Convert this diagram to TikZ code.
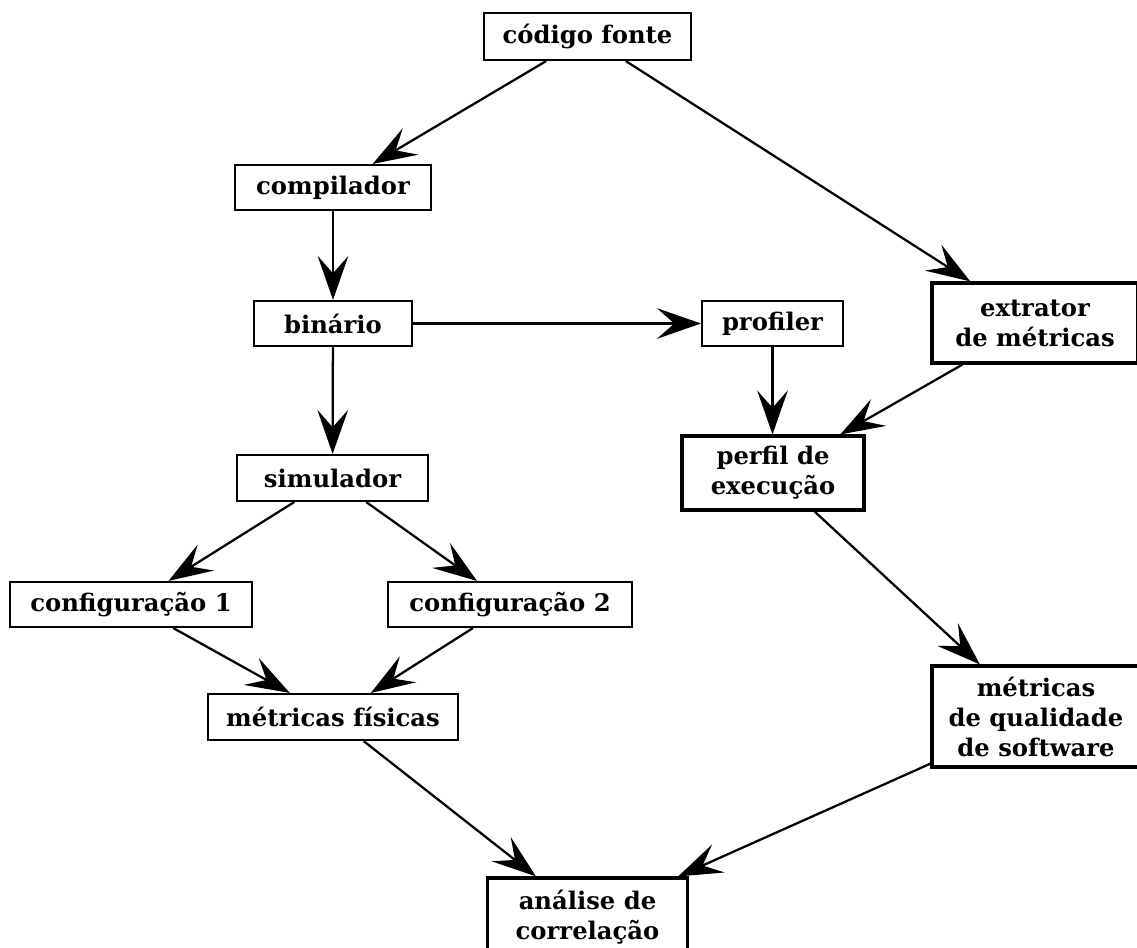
\documentclass[tikz,border=0pt]{standalone}
\usepackage{fontspec}
\setmainfont{DejaVu Serif}
\usetikzlibrary{arrows.meta}
\begin{document}
\begin{tikzpicture}[x=0.75pt,y=-0.75pt,
  box/.style={draw=black, line width=1.6pt, fill=white, inner sep=0pt, align=center,
    font=\bfseries\fontsize{18.2pt}{22.5pt}\selectfont},
  thickbox/.style={box, line width=2.4pt},
  edge/.style={line width=1.7pt, -{Stealth[length=33pt,width=23pt,inset=13pt]}}]
\useasboundingbox (0,0) rectangle (1137,947);
\clip (0,0) rectangle (1137,947);
\node[box, minimum width=155.25pt, minimum height=35.25pt] (cf) at (587.5,36.5) {código fonte};
\node[box, minimum width=147pt, minimum height=33.75pt] (comp) at (333,187.5) {compilador};
\node[box, minimum width=118.5pt, minimum height=33.75pt] (bin) at (333,323.5) {binário};
\node[box, minimum width=105.75pt, minimum height=33.75pt] (prof) at (772.5,323.5) {profiler};
\node[thickbox, minimum width=154.5pt, minimum height=60pt] (ext) at (1035,323) {extrator\\de métricas};
\node[box, minimum width=143.25pt, minimum height=34.5pt] (sim) at (332.5,478) {simulador};
\node[thickbox, minimum width=136.5pt, minimum height=55.5pt] (perf) at (773,473) {perfil de\\execução};
\node[box, minimum width=181.5pt, minimum height=33.75pt] (c1) at (131,604.5) {configuração 1};
\node[box, minimum width=183pt, minimum height=33.75pt] (c2) at (510,604.5) {configuração 2};
\node[box, minimum width=187.5pt, minimum height=34.5pt] (fis) at (333,717) {métricas físicas};
\node[thickbox, minimum width=156pt, minimum height=75.75pt] (qual) at (1036,716.5) {métricas\\de qualidade\\de software};
\node[thickbox, minimum width=150pt, minimum height=58.5pt] (ana) at (587.5,917) {análise de\\correlação};
\draw[edge] (cf) -- (comp);
\draw[edge] (cf) -- (ext);
\draw[edge] (comp) -- (bin);
\draw[edge] (bin) -- (prof);
\draw[edge] (bin) -- (sim);
\draw[edge] (prof) -- (perf.north -| prof);
\draw[edge] (ext) -- (perf);
\draw[edge] (sim) -- (c1);
\draw[edge] (sim) -- (c2);
\draw[edge] (perf) -- (qual);
\draw[edge] (c1) -- (fis);
\draw[edge] (c2) -- (fis);
\draw[edge] (fis) -- (ana);
\draw[edge] (qual) -- (ana);
\end{tikzpicture}
\end{document}
